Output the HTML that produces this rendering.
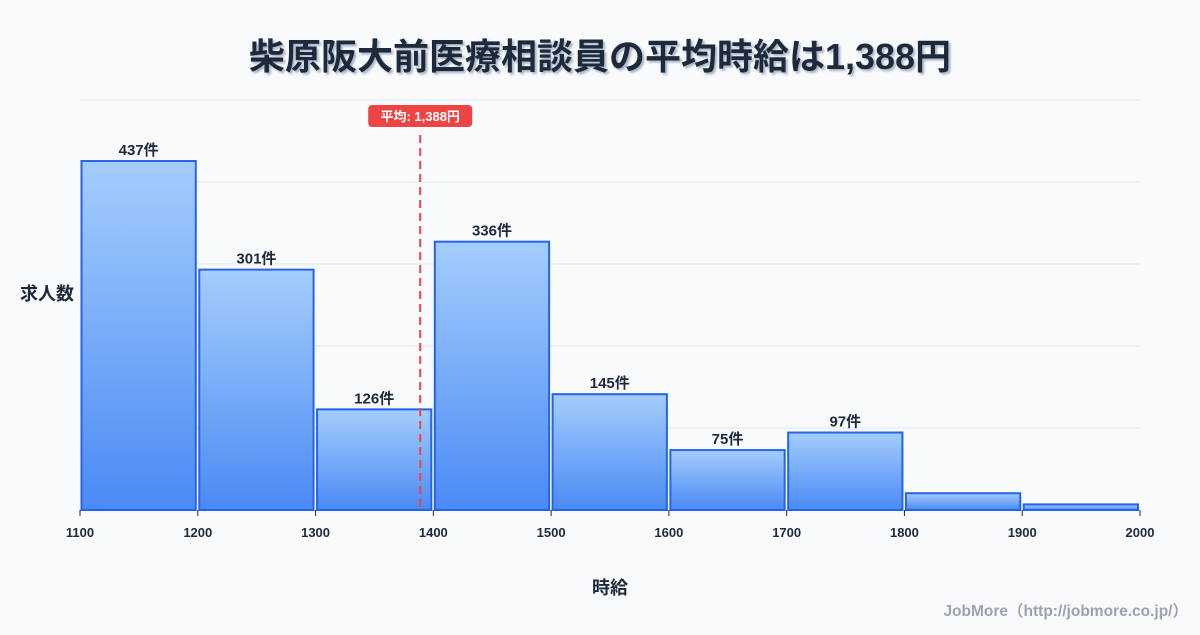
<!DOCTYPE html>
<html><head><meta charset="utf-8"><style>
body{margin:0;background:#f8fafc;font-family:"Liberation Sans","Noto Sans CJK JP",sans-serif;}
svg text{font-family:"Liberation Sans","Noto Sans CJK JP",sans-serif;}
</style></head><body>
<svg id="c" width="1200" height="630" xmlns="http://www.w3.org/2000/svg">
<defs><linearGradient id="g" x1="0" y1="0" x2="0" y2="1"><stop offset="0" stop-color="#a5cdfc"/><stop offset="1" stop-color="#4a8af5"/></linearGradient>
<filter id="sh"><feDropShadow dx="2" dy="2" stdDeviation="1" flood-color="#94a3b8" flood-opacity="0.8"/></filter></defs>
<text x="600" y="69" text-anchor="middle" font-size="36" font-weight="bold" fill="#1e293b" filter="url(#sh)">柴原阪大前医療相談員の平均時給は1,388円</text>
<g id="grid"></g><g id="bars"></g><g id="ticks"></g>
<text x="20" y="300" font-size="18" font-weight="bold" fill="#1e293b">求人数</text>
<text x="610" y="594" text-anchor="middle" font-size="18" font-weight="bold" fill="#1e293b">時給</text>
<text x="1188" y="616" text-anchor="end" font-size="15.5" font-weight="bold" fill="#9ca3af">JobMore（http://jobmore.co.jp/）</text>
<g id="mean"></g>
</svg>
<script>
const binStarts=[1100,1200,1300,1400,1500,1600,1700,1800,1900];
const counts=[437,301,126,336,145,75,97,21,7];
const showLabel=[true,true,true,true,true,true,true,false,false];
const xTicks=[1100,1200,1300,1400,1500,1600,1700,1800,1900,2000];
const meanValue=1388;
const meanLabel="平均: 1,388円";
const NS="http://www.w3.org/2000/svg";
const X0=80,X1=1140,Y0=510,Y1=100,xMin=1100,xMax=2000,yMax=513.4;
const x=v=>X0+(v-xMin)/(xMax-xMin)*(X1-X0);
const y=v=>Y0-v/yMax*(Y0-Y1);
function mk(t,a,p){const e=document.createElementNS(NS,t);for(const k in a)e.setAttribute(k,a[k]);document.getElementById(p).appendChild(e);return e;}
for(let i=0;i<=5;i++){const gy=Y0-i*(Y0-Y1)/5;
const l=mk('line',{x1:X0,x2:X1,y1:gy,y2:gy,stroke:'#e2e8f0','stroke-width':1},'grid');

}
binStarts.forEach((b,i)=>{const xa=x(b)+1.5,xb=x(b+100)-2,top=y(counts[i]);
const r=mk('rect',{x:xa,y:top,width:xb-xa,height:Y0-top,fill:'url(#g)',stroke:'#2563eb','stroke-width':2},'bars');


if(showLabel[i]){const t=mk('text',{x:(xa+xb)/2,y:top-6,'text-anchor':'middle','font-size':15,'font-weight':'bold',fill:'#1e293b'},'bars');t.textContent=counts[i]+'件';

}});
xTicks.forEach(v=>{const l=mk('line',{x1:x(v),x2:x(v),y1:Y0,y2:Y0+6,stroke:'#1e293b','stroke-width':1},'ticks');


const t=mk('text',{x:x(v),y:537,'text-anchor':'middle','font-size':13,'font-weight':'bold',fill:'#1e293b'},'ticks');t.textContent=v;

});
const mx=x(meanValue)+1;
const ml=mk('line',{x1:mx,x2:mx,y1:135,y2:Y0,stroke:'#ef4444','stroke-width':2,'stroke-dasharray':'8,5'},'mean');


const mb=mk('rect',{x:mx-52,y:105,width:104,height:22,rx:4,fill:'#ef4444'},'mean');


const mt=mk('text',{x:mx,y:121,'text-anchor':'middle','font-size':13,'font-weight':'bold',fill:'#fff'},'mean');mt.textContent=meanLabel;


</script>
</body></html>
